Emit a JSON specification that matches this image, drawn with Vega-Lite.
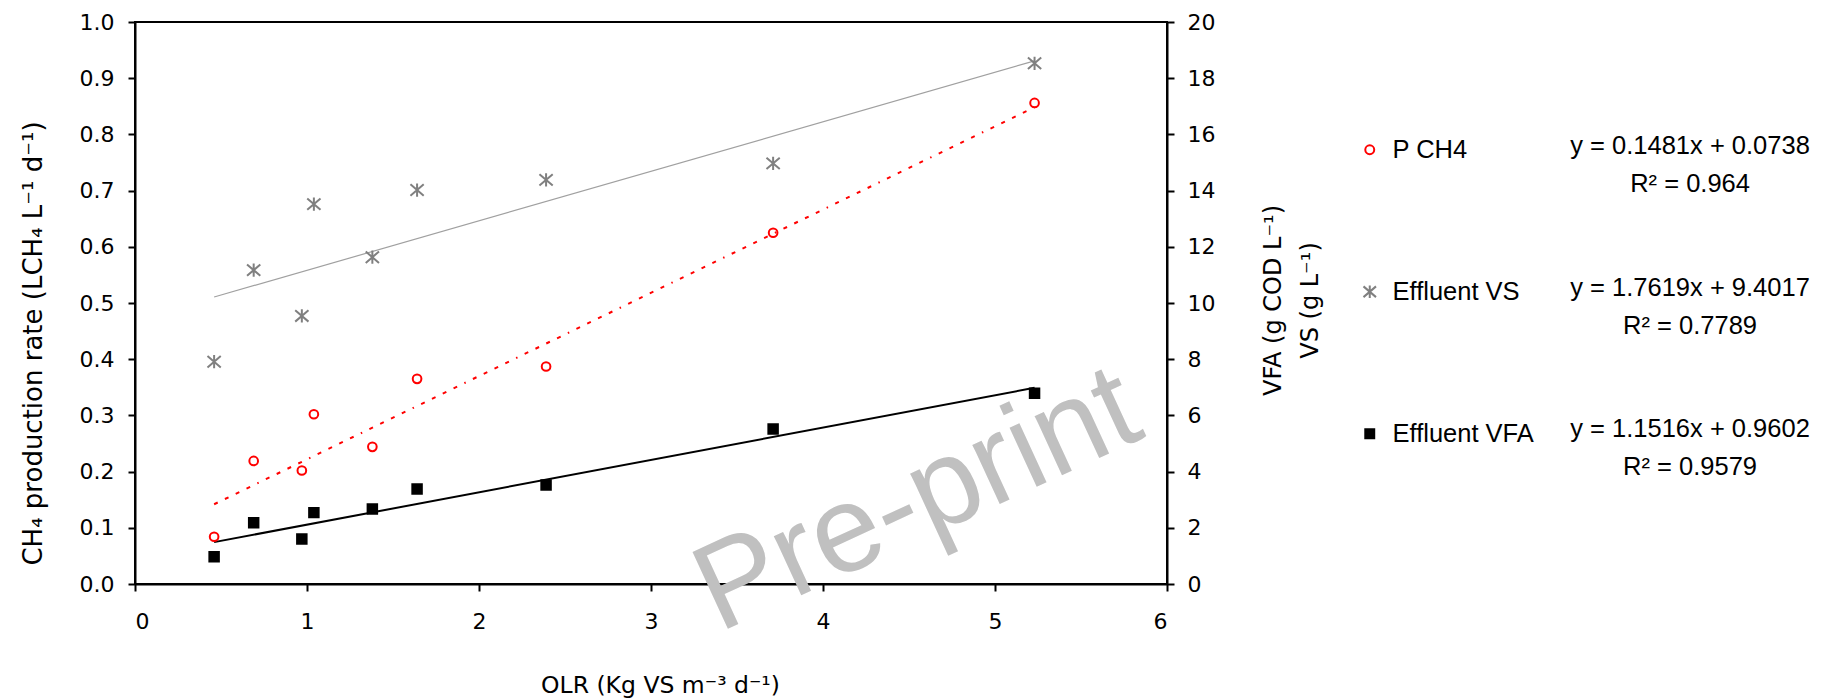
{
  "$schema": "https://vega.github.io/schema/vega-lite/v6.json",
  "width": 1032,
  "height": 562,
  "autosize": {"type": "none"},
  "padding": {"left": 135, "top": 22, "right": 656, "bottom": 116},
  "background": "white",
  "config": {
    "view": {"stroke": "black", "strokeWidth": 2},
    "axis": {
      "grid": false,
      "domainColor": "black",
      "domainWidth": 2,
      "tickColor": "black",
      "tickWidth": 2,
      "tickSize": 7,
      "labelFont": "DejaVu Sans",
      "labelFontSize": 22,
      "labelColor": "black",
      "titleFont": "DejaVu Sans",
      "titleFontWeight": "normal",
      "titleColor": "black"
    },
    "legend": {
      "orient": "none",
      "legendX": 1222,
      "legendY": 115,
      "padding": 0,
      "rowPadding": 115,
      "labelFont": "Liberation Sans",
      "labelFontSize": 25.5,
      "labelColor": "black",
      "labelOffset": 10,
      "symbolSize": 80,
      "symbolStrokeWidth": 2
    }
  },
  "datasets": {
    "obs": [
      {"series": "P CH4", "olr": 0.46, "value": 0.084},
      {"series": "P CH4", "olr": 0.69, "value": 0.219},
      {"series": "P CH4", "olr": 0.97, "value": 0.202},
      {"series": "P CH4", "olr": 1.04, "value": 0.302},
      {"series": "P CH4", "olr": 1.38, "value": 0.244},
      {"series": "P CH4", "olr": 1.64, "value": 0.365},
      {"series": "P CH4", "olr": 2.39, "value": 0.387},
      {"series": "P CH4", "olr": 3.71, "value": 0.625},
      {"series": "P CH4", "olr": 5.23, "value": 0.856},
      {"series": "Effluent VS", "olr": 0.46, "value": 7.91},
      {"series": "Effluent VS", "olr": 0.69, "value": 11.17},
      {"series": "Effluent VS", "olr": 0.97, "value": 9.54},
      {"series": "Effluent VS", "olr": 1.04, "value": 13.52},
      {"series": "Effluent VS", "olr": 1.38, "value": 11.63},
      {"series": "Effluent VS", "olr": 1.64, "value": 14.02},
      {"series": "Effluent VS", "olr": 2.39, "value": 14.38},
      {"series": "Effluent VS", "olr": 3.71, "value": 14.97},
      {"series": "Effluent VS", "olr": 5.23, "value": 18.53},
      {"series": "Effluent VFA", "olr": 0.46, "value": 0.97},
      {"series": "Effluent VFA", "olr": 0.69, "value": 2.18},
      {"series": "Effluent VFA", "olr": 0.97, "value": 1.6},
      {"series": "Effluent VFA", "olr": 1.04, "value": 2.54},
      {"series": "Effluent VFA", "olr": 1.38, "value": 2.67},
      {"series": "Effluent VFA", "olr": 1.64, "value": 3.38},
      {"series": "Effluent VFA", "olr": 2.39, "value": 3.52},
      {"series": "Effluent VFA", "olr": 3.71, "value": 5.52},
      {"series": "Effluent VFA", "olr": 5.23, "value": 6.79}
    ],
    "trend": [
      {"series": "P CH4", "olr": 0.46, "value": 0.1419},
      {"series": "P CH4", "olr": 5.23, "value": 0.8484},
      {"series": "Effluent VS", "olr": 0.46, "value": 10.212},
      {"series": "Effluent VS", "olr": 5.23, "value": 18.616},
      {"series": "Effluent VFA", "olr": 0.46, "value": 1.4899},
      {"series": "Effluent VFA", "olr": 5.23, "value": 6.983}
    ],
    "eqs": [
      {"series": "P CH4", "eq": "y = 0.1481x + 0.0738", "r2": "R² = 0.964"},
      {"series": "Effluent VS", "eq": "y = 1.7619x + 9.4017", "r2": "R² = 0.7789"},
      {"series": "Effluent VFA", "eq": "y = 1.1516x + 0.9602", "r2": "R² = 0.9579"}
    ],
    "watermark": [{"label": "Pre-print"}]
  },
  "resolve": {"scale": {"y": "independent"}},
  "layer": [
    {
      "data": {"name": "watermark"},
      "mark": {"type": "text", "font": "Liberation Sans", "fontSize": 123, "color": "#C0C0C0", "angle": -24.7, "align": "center", "baseline": "alphabetic"},
      "encoding": {
        "x": {"datum": 4.64, "type": "quantitative", "scale": {"domain": [0, 6], "nice": false}},
        "y": {"datum": 0.088, "type": "quantitative", "scale": {"domain": [0, 1], "nice": false}, "axis": null},
        "text": {"field": "label"}
      }
    },
    {
      "data": {"name": "trend"},
      "transform": [{"filter": "datum.series == 'P CH4'"}],
      "mark": {"type": "line", "color": "#FF0000", "strokeWidth": 2, "strokeDash": [4, 8, 4, 8, 4, 8, 4, 8, 1.5, 8]},
      "encoding": {
        "x": {"field": "olr", "type": "quantitative", "scale": {"domain": [0, 6], "nice": false}},
        "y": {"field": "value", "type": "quantitative", "scale": {"domain": [0, 1], "nice": false}, "axis": null}
      }
    },
    {
      "data": {"name": "trend"},
      "transform": [{"filter": "datum.series == 'Effluent VS'"}],
      "mark": {"type": "line", "color": "#A0A0A0", "strokeWidth": 1.2},
      "encoding": {
        "x": {"field": "olr", "type": "quantitative", "scale": {"domain": [0, 6], "nice": false}},
        "y": {"field": "value", "type": "quantitative", "scale": {"domain": [0, 20], "nice": false}, "axis": null}
      }
    },
    {
      "data": {"name": "trend"},
      "transform": [{"filter": "datum.series == 'Effluent VFA'"}],
      "mark": {"type": "line", "color": "#000000", "strokeWidth": 2},
      "encoding": {
        "x": {"field": "olr", "type": "quantitative", "scale": {"domain": [0, 6], "nice": false}},
        "y": {"field": "value", "type": "quantitative", "scale": {"domain": [0, 20], "nice": false}, "axis": null}
      }
    },
    {
      "data": {"name": "obs"},
      "transform": [{"filter": "datum.series == 'P CH4'"}],
      "mark": {"type": "point", "size": 75, "strokeWidth": 2, "opacity": 1},
      "encoding": {
        "x": {
          "field": "olr", "type": "quantitative",
          "scale": {"domain": [0, 6], "nice": false},
          "axis": {"values": [0, 1, 2, 3, 4, 5, 6], "format": "d", "labelPadding": 20, "title": "OLR (Kg VS m⁻³ d⁻¹)", "titleFontSize": 23.5, "titleX": 525, "titleY": 89.5, "titleBaseline": "top", "titleAlign": "center"}
        },
        "y": {
          "field": "value", "type": "quantitative",
          "scale": {"domain": [0, 1], "nice": false},
          "axis": {"orient": "left", "values": [0, 0.1, 0.2, 0.3, 0.4, 0.5, 0.6, 0.7, 0.8, 0.9, 1.0], "format": ".1f", "labelPadding": 14, "title": "CH₄ production rate (LCH₄ L⁻¹ d⁻¹)", "titleFontSize": 26, "titleAngle": -90, "titleX": -102, "titleY": 321, "titleAlign": "center", "titleBaseline": "middle"}
        },
        "shape": {"field": "series", "type": "nominal", "scale": {"domain": ["P CH4", "Effluent VS", "Effluent VFA"], "range": ["circle", "M0,-1.4L0,1.4M-1.4,-1.2L1.4,1.2M-1.4,1.2L1.4,-1.2", "square"]}, "legend": {"title": null}},
        "fill": {"field": "series", "type": "nominal", "scale": {"domain": ["P CH4", "Effluent VS", "Effluent VFA"], "range": ["transparent", "transparent", "#000000"]}, "legend": {"title": null}},
        "stroke": {"field": "series", "type": "nominal", "scale": {"domain": ["P CH4", "Effluent VS", "Effluent VFA"], "range": ["#FF0000", "#808080", "#000000"]}, "legend": {"title": null}}
      }
    },
    {
      "data": {"name": "obs"},
      "transform": [{"filter": "datum.series != 'P CH4'"}],
      "mark": {"type": "point", "size": 90, "strokeWidth": 2, "opacity": 1},
      "encoding": {
        "x": {"field": "olr", "type": "quantitative", "scale": {"domain": [0, 6], "nice": false}},
        "y": {
          "field": "value", "type": "quantitative",
          "scale": {"domain": [0, 20], "nice": false},
          "axis": {"orient": "right", "values": [0, 2, 4, 6, 8, 10, 12, 14, 16, 18, 20], "format": "d", "labelPadding": 13, "title": ["VFA (g COD L⁻¹)", "VS (g L⁻¹)"], "titleFontSize": 24, "titleLineHeight": 37, "titleAngle": -90, "titleX": 106, "titleY": 278, "titleAlign": "center", "titleBaseline": "middle"}
        },
        "shape": {"field": "series", "type": "nominal", "scale": {"domain": ["P CH4", "Effluent VS", "Effluent VFA"], "range": ["circle", "M0,-1.4L0,1.4M-1.4,-1.2L1.4,1.2M-1.4,1.2L1.4,-1.2", "square"]}, "legend": {"title": null}},
        "fill": {"field": "series", "type": "nominal", "scale": {"domain": ["P CH4", "Effluent VS", "Effluent VFA"], "range": ["transparent", "transparent", "#000000"]}, "legend": {"title": null}},
        "stroke": {"field": "series", "type": "nominal", "scale": {"domain": ["P CH4", "Effluent VS", "Effluent VFA"], "range": ["#FF0000", "#808080", "#000000"]}, "legend": {"title": null}}
      }
    },
    {
      "data": {"name": "eqs"},
      "mark": {"type": "text", "font": "Liberation Sans", "fontSize": 25.5, "color": "black", "align": "center", "baseline": "middle", "dy": -19},
      "encoding": {
        "x": {"datum": 9.041, "type": "quantitative", "scale": {"domain": [0, 6], "nice": false}},
        "y": {"field": "series", "type": "nominal", "scale": {"type": "point", "domain": ["P CH4", "Effluent VS", "Effluent VFA"], "range": [143, 426], "padding": 0}, "axis": null},
        "text": {"field": "eq"}
      }
    },
    {
      "data": {"name": "eqs"},
      "mark": {"type": "text", "font": "Liberation Sans", "fontSize": 25.5, "color": "black", "align": "center", "baseline": "middle", "dy": 19},
      "encoding": {
        "x": {"datum": 9.041, "type": "quantitative", "scale": {"domain": [0, 6], "nice": false}},
        "y": {"field": "series", "type": "nominal", "scale": {"type": "point", "domain": ["P CH4", "Effluent VS", "Effluent VFA"], "range": [143, 426], "padding": 0}, "axis": null},
        "text": {"field": "r2"}
      }
    }
  ]
}
